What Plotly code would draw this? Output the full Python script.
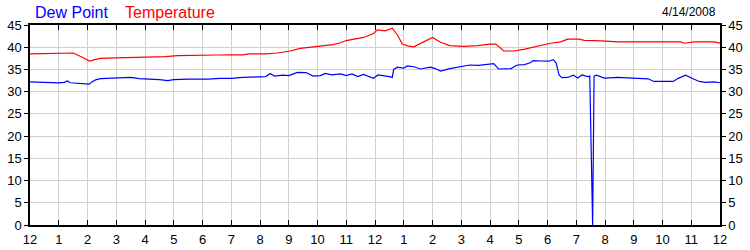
import plotly.graph_objects as go

temp_hours = [0.0, 0.4, 0.6, 1.0, 1.5, 1.8, 2.07, 2.25, 2.45, 3.0, 3.5, 4.0, 4.5, 4.7, 5.14, 5.6, 6.2,
              6.5, 7.0, 7.4, 7.6, 8.2, 8.6, 9.05, 9.4, 10.0, 10.55, 10.8, 11.0, 11.6, 11.95, 12.08,
              12.35, 12.6, 12.78, 12.95, 13.13, 13.35, 13.58, 14.0, 14.28, 14.6, 15.08, 15.57, 16.0,
              16.2, 16.48, 16.82, 17.17, 17.5, 17.77, 18.1, 18.46, 18.7, 19.1, 19.28, 19.86, 20.45,
              21.0, 22.0, 22.65, 22.75, 23.1, 23.8, 24.0]
temperature = [38.5, 38.55, 38.7, 38.7, 38.7, 37.8, 36.9, 37.2, 37.5, 37.6, 37.7, 37.75, 37.8, 37.9,
               38.1, 38.2, 38.3, 38.25, 38.3, 38.3, 38.5, 38.5, 38.7, 39.15, 39.75, 40.2, 40.6, 41.0,
               41.5, 42.2, 43.1, 43.9, 43.7, 44.3, 42.75, 40.7, 40.3, 40.1, 40.9, 42.2, 41.1, 40.35,
               40.2, 40.35, 40.7, 40.7, 39.15, 39.15, 39.5, 40.05, 40.5, 40.9, 41.2, 41.8, 41.8, 41.55,
               41.45, 41.2, 41.2, 41.2, 41.2, 40.9, 41.2, 41.2, 40.9]

dew_hours = [0.0, 0.4, 0.6, 1.0, 1.2, 1.3, 1.4, 1.65, 1.85, 2.06, 2.15, 2.3, 2.46, 2.8, 3.2, 3.51,
             3.8, 4.2, 4.5, 4.79, 5.0, 5.5, 6.0, 6.19, 6.6, 7.0, 7.4, 7.8, 8.2, 8.35, 8.5, 8.8, 9.0,
             9.3, 9.6, 9.85, 10.1, 10.27, 10.5, 10.8, 11.0, 11.2, 11.4, 11.6, 11.8, 11.95, 12.1, 12.3,
             12.5, 12.6, 12.65, 12.78, 13.0, 13.13, 13.35, 13.58, 13.93, 14.1, 14.28, 14.6, 14.97,
             15.3, 15.6, 16.0, 16.13, 16.3, 16.73, 16.95, 17.2, 17.4, 17.5, 17.77, 18.05, 18.2, 18.3,
             18.4, 18.5, 18.7, 18.9, 19.05, 19.2, 19.4, 19.47, 19.57, 19.62, 19.7, 19.98, 20.45, 21.0,
             21.5, 21.7, 22.37, 22.55, 22.8, 23.1, 23.28, 23.5, 23.8, 24.0]
dew_point = [32.2, 32.1, 32.0, 32.0, 32.1, 32.4, 32.0, 31.9, 31.8, 31.7, 32.2, 32.7, 32.95, 33.0, 33.0,
             33.2, 32.95, 32.9, 32.7, 32.5, 32.7, 32.8, 32.8, 32.8, 33.0, 33.0, 33.2, 33.3, 33.4, 34.1,
             33.5, 33.7, 33.6, 34.35, 34.3, 33.5, 33.6, 34.1, 33.8, 34.0, 33.6, 34.0, 33.4, 33.9, 33.3,
             33.0, 33.75, 33.6, 33.4, 33.2, 35.0, 35.5, 35.3, 35.8, 35.6, 35.1, 35.5, 35.2, 34.65, 35.2,
             35.7, 36.0, 35.9, 36.2, 36.3, 35.1, 35.2, 36.0, 36.1, 36.5, 37.0, 36.9, 36.85, 37.2, 36.5,
             33.75, 33.15, 33.2, 33.7, 33.05, 33.75, 33.4, 33.5, 0.0, 33.5, 33.7, 33.05, 33.2, 33.1,
             32.9, 32.3, 32.3, 33.0, 33.7, 32.8, 32.3, 32.1, 32.2, 32.0]

tick_hours = list(range(0, 25))
tick_labels = ["12"] + [str(i) for i in range(1, 12)] + ["12"] + [str(i) for i in range(1, 12)] + ["12"]
y_ticks = [0, 5, 10, 15, 20, 25, 30, 35, 40, 45]

series_names = ["Dew Point", "Temperature"]
series_colors = ["#0000FF", "#FF0000"]
date_label = "4/14/2008"

fig = go.Figure()
fig.add_trace(go.Scatter(x=dew_hours, y=dew_point, mode="lines", name=series_names[0],
                         line=dict(color=series_colors[0], width=1.2)))
fig.add_trace(go.Scatter(x=temp_hours, y=temperature, mode="lines", name=series_names[1],
                         line=dict(color=series_colors[1], width=1.2), yaxis="y2"))

font_family = "Liberation Sans, Arial, sans-serif"
W, H = 750, 250
ml, mr, mt, mb = 30, 30, 25, 25
pw = W - ml - mr
ph = H - mt - mb

def px_x(p):
    return (p - ml) / pw

def px_y(p):
    return (H - mb - p) / ph

fig.update_layout(
    width=W, height=H, autosize=False,
    margin=dict(l=ml, r=mr, t=mt, b=mb, pad=0, autoexpand=False),
    paper_bgcolor="white", plot_bgcolor="white",
    showlegend=False,
    font=dict(family=font_family, size=12, color="black"),
    xaxis=dict(range=[0, 24], tickmode="array", tickvals=tick_hours, ticktext=tick_labels,
               showgrid=True, gridcolor="#d0d0d0", gridwidth=1, automargin=False,
               showline=True, linecolor="black", linewidth=1.5, mirror="ticks",
               ticks="inside", ticklen=5, tickcolor="black", zeroline=False,
               ticklabelstandoff=2,
               tickfont=dict(size=13)),
    yaxis=dict(range=[0, 45], tickmode="array", tickvals=y_ticks, automargin=False,
               showgrid=True, gridcolor="#d0d0d0", gridwidth=1,
               showline=True, linecolor="black", linewidth=1.5,
               ticks="outside", ticklen=4, tickcolor="black", zeroline=False,
               tickfont=dict(size=13)),
    yaxis2=dict(range=[0, 45], tickmode="array", tickvals=y_ticks, overlaying="y", side="right",
                showgrid=False, showline=True, linecolor="black", linewidth=1.5, automargin=False,
                ticks="outside", ticklen=4, tickcolor="black", zeroline=False,
                tickfont=dict(size=13)),
    annotations=[
        dict(text=series_names[0], x=px_x(33), y=px_y(13), xref="paper", yref="paper",
             xanchor="left", yanchor="middle", showarrow=False,
             font=dict(size=16, color=series_colors[0], family=font_family)),
        dict(text=series_names[1], x=px_x(123), y=px_y(13), xref="paper", yref="paper",
             xanchor="left", yanchor="middle", showarrow=False,
             font=dict(size=16, color=series_colors[1], family=font_family)),
        dict(text=date_label, x=px_x(718), y=px_y(12), xref="paper", yref="paper",
             xanchor="right", yanchor="middle", showarrow=False,
             font=dict(size=12, color="black", family=font_family)),
    ],
)

fig.write_html("out.html")
